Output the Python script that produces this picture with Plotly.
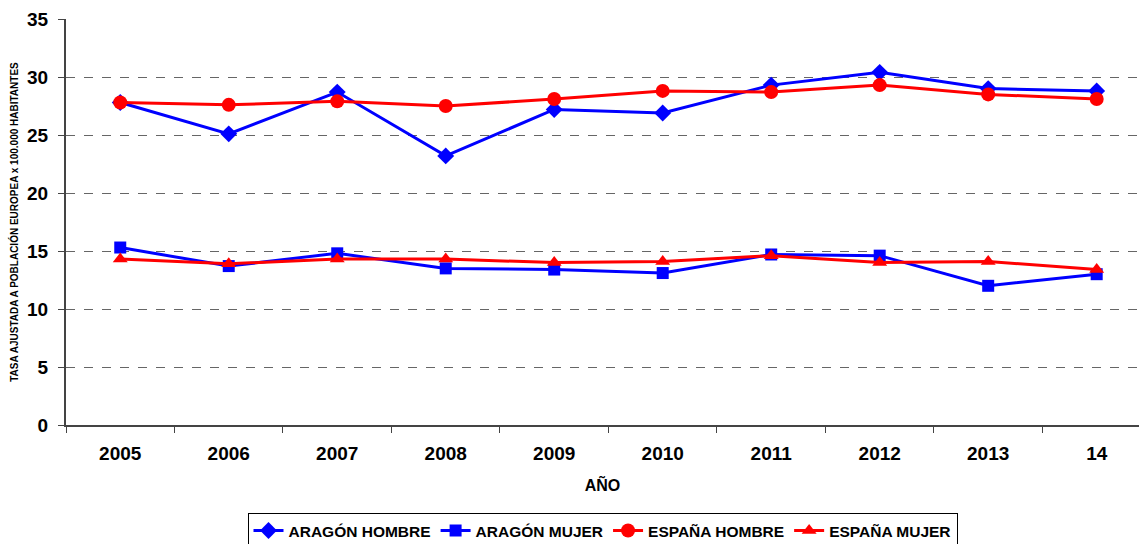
import plotly.graph_objects as go

years = ["2005", "2006", "2007", "2008", "2009", "2010", "2011", "2012", "2013", "14"]

aragon_hombre = [27.8, 25.1, 28.7, 23.2, 27.2, 26.9, 29.3, 30.4, 29.0, 28.8]
aragon_mujer = [15.3, 13.7, 14.8, 13.5, 13.4, 13.1, 14.7, 14.6, 12.0, 13.0]
espana_hombre = [27.8, 27.6, 27.9, 27.5, 28.1, 28.8, 28.7, 29.3, 28.5, 28.1]
espana_mujer = [14.3, 13.9, 14.3, 14.3, 14.0, 14.1, 14.6, 14.0, 14.1, 13.4]

FONT = "Liberation Sans, Arial, sans-serif"

series = [
    ("ARAGÓN HOMBRE", aragon_hombre, "#0000FF", "diamond", 13),
    ("ARAGÓN MUJER", aragon_mujer, "#0000FF", "square", 12),
    ("ESPAÑA HOMBRE", espana_hombre, "#FF0000", "circle", 14),
    ("ESPAÑA MUJER", espana_mujer, "#FF0000", "triangle-up", 13),
]

fig = go.Figure()
for name, vals, color, symbol, size in series:
    fig.add_trace(go.Scatter(
        x=years, y=vals, name=name, mode="lines+markers",
        line=dict(color=color, width=3),
        marker=dict(symbol=symbol, size=size, color=color),
    ))

fig.update_layout(
    width=1139, height=544,
    paper_bgcolor="white", plot_bgcolor="white",
    font=dict(family=FONT, color="black"),
    margin=dict(l=66, r=0, t=19, b=119, autoexpand=False),
    showlegend=True,
    legend=dict(
        orientation="h", x=0.5, xanchor="center",
        yref="container", y=0.057, yanchor="top",
        bordercolor="black", borderwidth=1,
        font=dict(size=15.5, weight="bold", family=FONT),
        itemwidth=30, tracegroupgap=0,
    ),
)

fig.update_xaxes(
    type="category", range=[-0.5, 9.39], automargin=False,
    showline=True, linecolor="#444", linewidth=2,
    ticks="outside", tickson="boundaries", ticklen=6, tickcolor="#444",
    tickfont=dict(size=19, weight="bold"), ticklabelstandoff=10,
    showgrid=False,
    title=dict(text="AÑO", font=dict(size=16, weight="bold"), standoff=17),
)
fig.update_yaxes(
    range=[0, 35], dtick=5, automargin=False,
    showline=True, linecolor="#444", linewidth=2,
    ticks="outside", ticklen=6, tickcolor="#444",
    tickfont=dict(size=19, weight="bold"), ticklabelstandoff=6,
    showgrid=True, gridcolor="#666", griddash="dash", gridwidth=1,
    zeroline=False,
    title=dict(text="TASA AJUSTADA A POBLACIÓN EUROPEA x 100.000 HABITANTES",
               font=dict(size=10, weight="bold"), standoff=7),
)

# page has a default 8px body margin; drop it so the figure sits at 0,0
fig.write_html(
    "out.html",
    config={"displayModeBar": False},
    post_script="document.body.style.margin='0';",
)
